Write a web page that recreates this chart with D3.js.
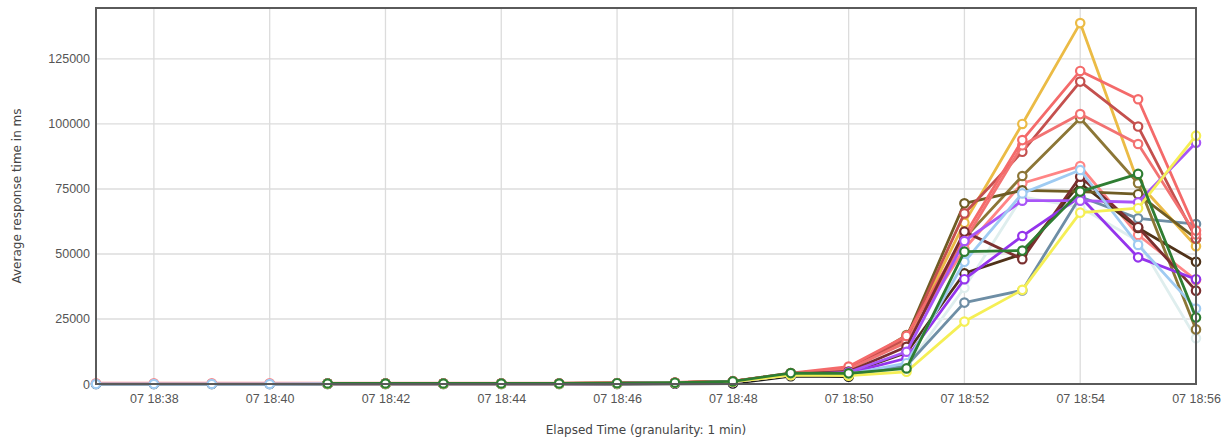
<!DOCTYPE html>
<html>
<head>
<meta charset="utf-8">
<script src="https://cdn.jsdelivr.net/npm/d3@7"></script>
<style>
  body { margin: 0; background: #fff; }
  .tick text { fill: #555; }
</style>
</head>
<body>
<div class="main"></div>
<script>
// minutes 18:37 .. 18:56, one point per minute
let minutes = ["18:37","18:38","18:39","18:40","18:41","18:42","18:43","18:44","18:45","18:46",
               "18:47","18:48","18:49","18:50","18:51","18:52","18:53","18:54","18:55","18:56"];

let yTicks = [0, 25000, 50000, 75000, 100000, 125000];

// series values in ms (null = no sample)
let s_black   = [0, 0, 0, 0, 0, 0, 0, 0, 0, 0, 100, 200, 3000, 2800, null, null, null, null, null, null];
let s_salmon  = [300, 300, 300, 300, 300, 300, 300, 300, 300, 400, 600, 1000, 4000, 6200, 17000, 52000, 77200, 83800, 57300, 40000];
let s_gold    = [null, null, null, null, 200, 200, 200, 200, 200, 300, 500, 1000, 3800, 5500, 17000, 62000, 100000, 138800, 77500, 53000];
let s_red     = [null, null, null, null, 200, 200, 200, 200, 200, 300, 600, 1100, 4200, 6700, 18500, 57000, 93800, 120400, 109500, 59000];
let s_brick   = [null, null, null, null, 200, 200, 200, 200, 200, 300, 500, 1000, 4000, 6000, 17500, 65600, 89300, 116300, 99000, 56000];
let s_red2    = [null, null, null, null, 200, 200, 200, 200, 200, 300, 500, 1000, 3900, 5800, 16000, 55000, 91800, 103800, 92300, 57500];
let s_olive   = [null, null, null, null, 200, 200, 200, 200, 200, 300, 500, 1000, 4000, 5500, 18800, 56000, 80000, 102200, 77200, 21000];
let s_olive2  = [null, null, null, null, 200, 200, 200, 200, 200, 300, 500, 1000, 4100, 5900, 18000, 69500, 74500, 74000, 73000, 56000];
let s_ltblue  = [0, 0, 0, 0, 100, 100, 100, 100, 100, 200, 400, 800, 3600, 3800, 8000, 47000, 73300, 82300, 53500, 29000];
let s_maroon  = [null, null, null, null, 100, 100, 100, 100, 100, 200, 400, 800, 3700, 4800, 14300, 58600, 48000, 79700, 60300, 35900];
let s_purple  = [null, null, null, null, 100, 100, 100, 100, 100, 200, 400, 800, 3600, 4500, 12400, 55000, 70500, 70500, 69900, 92800];
let s_purple2 = [null, null, null, null, 100, 100, 100, 100, 100, 200, 400, 800, 3500, 4200, 9900, 40300, 56900, 72000, 48700, 40300];
let s_slate   = [null, null, null, null, 100, 100, 100, 100, 100, 200, 400, 800, 3500, 3600, 7000, 31300, 36000, 72000, 63700, 61500];
let s_white   = [null, null, null, null, 100, 100, 100, 100, 100, 200, 400, 800, 3500, 3500, 6500, 37000, 72000, 68000, 55000, 17600];
let s_brown   = [null, null, null, null, 100, 100, 100, 100, 100, 200, 400, 800, 3600, 4300, 12000, 42600, 50000, 77200, 60000, 47000];
let s_yellow  = [null, null, null, null, 100, 100, 100, 100, 100, 200, 400, 800, 3400, 3200, 4700, 24000, 36200, 65900, 67600, 95500];
let s_green   = [null, null, null, null, 200, 200, 200, 200, 200, 300, 500, 1000, 4200, 4100, 6000, 50900, 51300, 74000, 80800, 25600];

// draw order (last on top)
let series = [
  {v: s_black,   c: "#1a1a1a"},
  {v: s_white,   c: "#dfeeee"},
  {v: s_salmon,  c: "#ff8585"},
  {v: s_slate,   c: "#6e8ea5"},
  {v: s_brown,   c: "#4f3219"},
  {v: s_gold,    c: "#ebbb45"},
  {v: s_olive,   c: "#8c7636"},
  {v: s_olive2,  c: "#6f5c24"},
  {v: s_brick,   c: "#c4504e"},
  {v: s_red2,    c: "#f27272"},
  {v: s_red,     c: "#f46a6a"},
  {v: s_maroon,  c: "#7a2f2f"},
  {v: s_purple2, c: "#9434ec"},
  {v: s_purple,  c: "#a855f7"},
  {v: s_ltblue,  c: "#9fcbf2"},
  {v: s_yellow,  c: "#f5ef55"},
  {v: s_green,   c: "#2e7d32"}
];

let width = 1227, height = 441;
let margin = {left: 96, right: 31, top: 8, bottom: 57};

let parseT = d3.timeParse("%Y-%m-%d %H:%M");
let times = minutes.map(function(m) { return parseT("2020-01-07 " + m); });

let svg = d3.select("div.main").append("svg")
  .attr("width", width)
  .attr("height", height);

let x = d3.scaleTime()
  .domain([times[0], times[times.length - 1]])
  .range([margin.left, width - margin.right]);

let y = d3.scaleLinear()
  .domain([0, 144600])
  .range([height - margin.bottom, margin.top]);

// grid
let grid = svg.append("g");
grid.selectAll("line.h")
  .data(yTicks.slice(1))
  .enter().append("line")
  .attr("x1", x.range()[0]).attr("x2", x.range()[1])
  .attr("y1", y).attr("y2", y)
  .attr("stroke", "#dcdcdc").attr("stroke-width", 1.3);

let xTicks = x.ticks(d3.timeMinute.every(2));
grid.selectAll("line.v")
  .data(xTicks)
  .enter().append("line")
  .attr("x1", x).attr("x2", x)
  .attr("y1", y.range()[0]).attr("y2", y.range()[1])
  .attr("stroke", "#dcdcdc").attr("stroke-width", 1.3);

// axes
let xAxis = svg.append("g")
  .attr("transform", "translate(0," + y.range()[0] + ")")
  .call(d3.axisBottom(x).tickValues(xTicks).tickFormat(d3.timeFormat("%d %H:%M")).tickSize(0).tickPadding(10));
xAxis.select(".domain").remove();
xAxis.selectAll("text").style("font-family", "Liberation Sans, Arial, sans-serif").style("font-size", "12.5px");

let yAxis = svg.append("g")
  .attr("transform", "translate(" + x.range()[0] + ",0)")
  .call(d3.axisLeft(y).tickValues(yTicks).tickFormat(d3.format("d")).tickSize(0).tickPadding(6));
yAxis.select(".domain").remove();
yAxis.selectAll("text").style("font-family", "Liberation Sans, Arial, sans-serif").style("font-size", "12.5px");

// lines
let line = d3.line()
  .defined(function(d) { return d != null; })
  .x(function(d, i) { return x(times[i]); })
  .y(function(d) { return y(d); });

let plot = svg.append("g");
series.forEach(function(s) {
  plot.append("path")
    .attr("d", line(s.v))
    .attr("fill", "none")
    .attr("stroke", s.c)
    .attr("stroke-width", 2.8)
    .attr("stroke-linejoin", "round");
  let pts = [];
  s.v.forEach(function(d, i) { if (d != null) pts.push({t: times[i], v: d}); });
  plot.selectAll(null)
    .data(pts)
    .enter().append("circle")
    .attr("cx", function(d) { return x(d.t); })
    .attr("cy", function(d) { return y(d.v); })
    .attr("r", 4.2)
    .attr("fill", "#fff")
    .attr("stroke", s.c)
    .attr("stroke-width", 2.2);
});

// frame
svg.append("rect")
  .attr("x", x.range()[0]).attr("y", y.range()[1])
  .attr("width", x.range()[1] - x.range()[0])
  .attr("height", y.range()[0] - y.range()[1])
  .attr("fill", "none")
  .attr("stroke", "#5a5a5a")
  .attr("stroke-width", 2);

// axis titles
svg.append("text")
  .attr("x", (x.range()[0] + x.range()[1]) / 2)
  .attr("y", 434)
  .attr("text-anchor", "middle")
  .style("font-family", "DejaVu Sans, Verdana, sans-serif")
  .style("font-size", "12px")
  .attr("fill", "#444")
  .text("Elapsed Time (granularity: 1 min)");

svg.append("text")
  .attr("transform", "translate(21," + 196 + ") rotate(-90)")
  .attr("text-anchor", "middle")
  .style("font-family", "DejaVu Sans, Verdana, sans-serif")
  .style("font-size", "12px")
  .attr("fill", "#444")
  .text("Average response time in ms");
</script>
</body>
</html>
